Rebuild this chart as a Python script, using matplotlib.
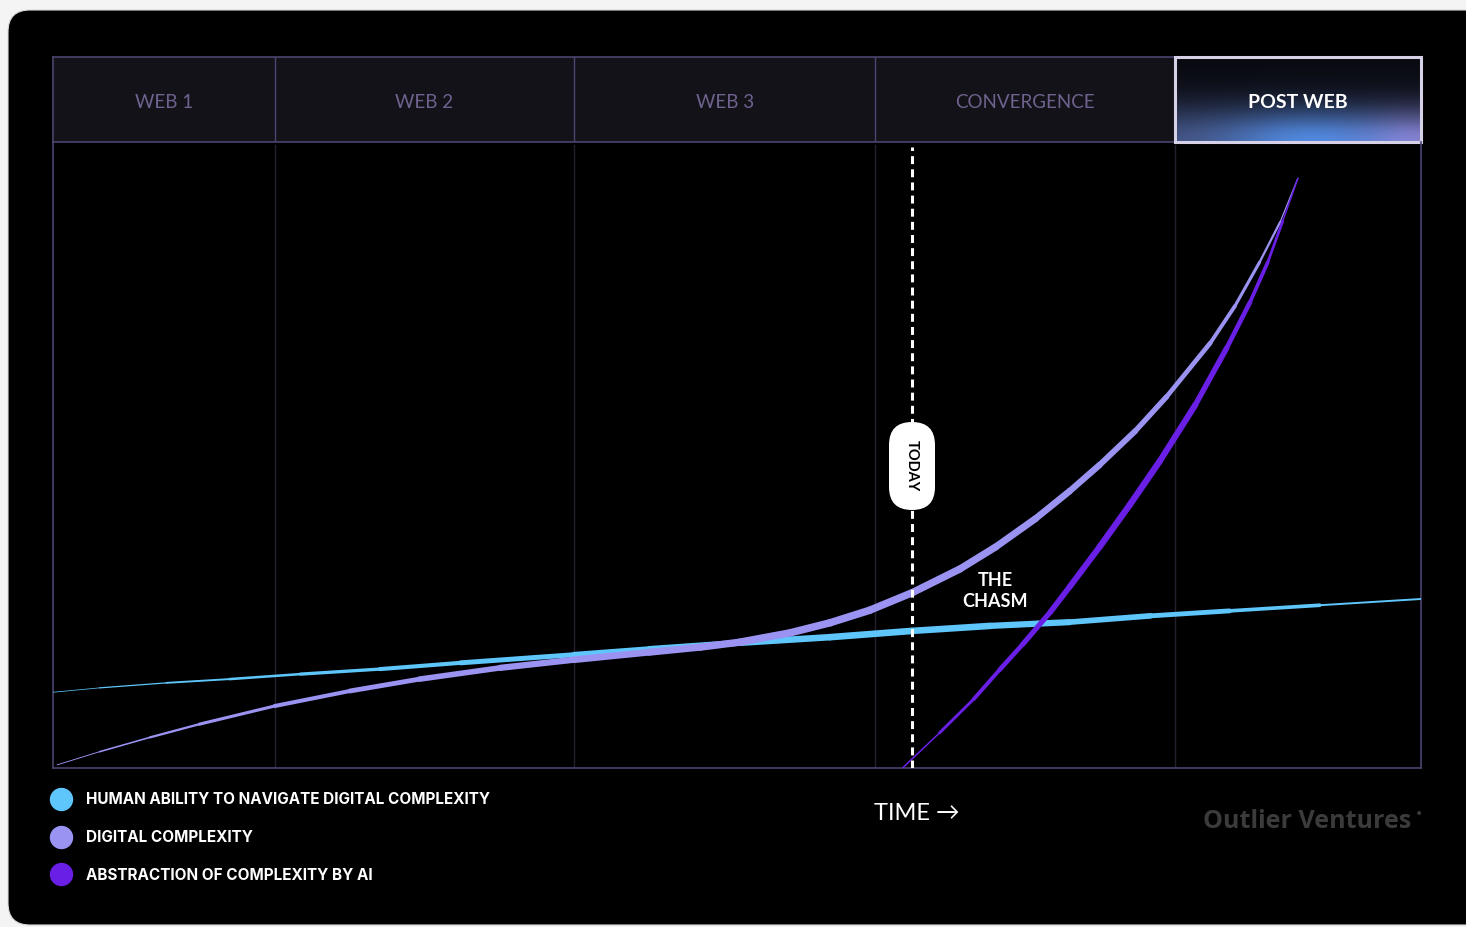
import numpy as np
import matplotlib.pyplot as plt
from matplotlib.collections import LineCollection
from matplotlib.patches import FancyBboxPatch, Rectangle

### Data (time 0-100 across the frame, level 0-100 up the frame) ###
eras = ["WEB 1", "WEB 2", "WEB 3", "CONVERGENCE", "POST WEB"]
era_edges = [0, 16.2, 38.1, 60.1, 82.0, 100]
today = 62.8

human_x = [0, 3.4, 8.3, 12.9, 18.1, 23.9, 29.8, 38.1, 43.6, 50.2, 56.8, 62.8,
           68.5, 74.3, 80.2, 86.0, 92.6, 100]
human_y = [12.1, 12.8, 13.6, 14.2, 15.0, 15.8, 16.8, 18.1, 19.0, 20.0, 20.9, 21.9,
           22.7, 23.3, 24.3, 25.1, 26.0, 27.0]

digital_x = [0.3, 3.4, 7.1, 10.7, 16.2, 21.7, 26.8, 32.7, 38.1, 43.6, 47.3, 50.2,
             53.9, 56.8, 59.7, 62.8, 66.3, 68.9, 71.8, 74.3, 76.5, 79.1, 81.4,
             84.6, 86.4, 88.2, 89.7, 91.0]
digital_y = [0.5, 2.6, 4.9, 7.0, 9.9, 12.3, 14.2, 16.0, 17.3, 18.5, 19.3, 20.1,
             21.6, 23.2, 25.2, 28.0, 31.8, 35.3, 39.8, 44.2, 48.4, 53.8, 59.3,
             67.9, 73.8, 80.8, 87.2, 94.2]

ai_x = [62.1, 64.8, 67.3, 69.2, 70.9, 72.9, 74.3, 76.5, 78.7, 80.9, 83.5, 85.8,
        87.5, 88.8, 89.9, 91.0]
ai_y = [0, 5.6, 11.0, 15.7, 19.8, 24.9, 28.9, 35.3, 42.0, 49.0, 58.0, 67.1,
        74.4, 80.8, 87.4, 94.2]

labels = ["HUMAN ABILITY TO NAVIGATE DIGITAL COMPLEXITY",
          "DIGITAL COMPLEXITY",
          "ABSTRACTION OF COMPLEXITY BY AI"]
colors = ["#5ec6fb", "#9b93f2", "#6a1fe6"]

W, H = 1466, 927
FRAME = "#4d4370"


def tapered(ax, xs, ys, color, wmax, peak):
    # line that is thin at both ends and thick in the middle
    xs = np.asarray(xs, float)
    ys = np.asarray(ys, float)
    d = np.hypot(np.diff(xs) * 13.68, np.diff(ys) * 6.26)
    s = np.concatenate([[0], np.cumsum(d)]) / d.sum()
    mid = (s[:-1] + s[1:]) / 2
    a = np.log(0.5) / np.log(peak)
    w = wmax * np.sin(np.pi * mid ** a) ** 0.8 + 0.4
    pts = np.column_stack([xs, ys])
    segs = np.stack([pts[:-1], pts[1:]], axis=1)
    lc = LineCollection(segs, linewidths=w, colors=color,
                        capstyle="round", joinstyle="round", zorder=4)
    ax.add_collection(lc)


def main():
    fig = plt.figure(figsize=(W / 100, H / 100), dpi=100, facecolor="#f4f4f4")

    ### background panel, legend, footer ###
    bg = fig.add_axes([0, 0, 1, 1], zorder=0)
    bg.set_xlim(0, W)
    bg.set_ylim(H, 0)
    bg.axis("off")
    bg.add_patch(FancyBboxPatch((8, 10), W + 40, H - 12,
                                boxstyle="round,pad=0,rounding_size=22",
                                fc="black", ec="#dadada", lw=0.8))

    for i, (lab, col) in enumerate(zip(labels, colors)):
        yy = 799 + 37.5 * i
        bg.scatter([61], [yy], s=250, color=col, zorder=3)
        bg.text(86, yy + 1, lab, color="white", fontsize=11, fontweight="bold",
                family="Inter", va="center", ha="left")

    bg.text(874, 813, "TIME →", color="white", fontsize=17, fontweight="normal",
            family=["Lato", "DejaVu Sans"], va="center", ha="left")
    bg.text(1411, 822, "Outlier Ventures", color="#3b3b3b", fontsize=18,
            fontweight="bold", family="Open Sans", va="center", ha="right")
    bg.text(1419, 814, "•", color="#3b3b3b", fontsize=10, va="center", ha="center")

    ### header with the eras ###
    hx = fig.add_axes([53 / W, 1 - 142 / H, 1368 / W, 85 / H], zorder=1)
    hx.set_xlim(0, 100)
    hx.set_ylim(0, 1)
    hx.set_facecolor("#131219")
    hx.set_xticks([])
    hx.set_yticks([])
    for sp in hx.spines.values():
        sp.set_color(FRAME)
        sp.set_linewidth(1.2)
    for e in era_edges[1:-2]:
        hx.axvline(e, color=FRAME, lw=1)

    # post web cell glow
    gx, gy = np.meshgrid(np.linspace(0, 1, 240), np.linspace(0, 1, 80))
    base = np.array([0.035, 0.04, 0.065])
    wash = np.exp(-(gy / 0.45) ** 2)
    blue = np.exp(-((gx - 0.55) / 0.35) ** 2 - (gy / 0.35) ** 2)
    purp = np.exp(-((gx - 1.0) / 0.22) ** 2 - (gy / 0.35) ** 2)
    img = (base[None, None, :]
           + wash[..., None] * np.array([0.22, 0.27, 0.42])
           + blue[..., None] * np.array([0.06, 0.22, 0.38])
           + purp[..., None] * np.array([0.25, 0.15, 0.25]))
    img = np.clip(img, 0, 1)
    hx.imshow(img, extent=[era_edges[4], era_edges[5], 0, 1], origin="lower",
              aspect="auto", zorder=1)
    hx.add_patch(Rectangle((era_edges[4], 0.0), era_edges[5] - era_edges[4], 1.0,
                           fill=False, ec="#d6d1e6", lw=2.2, zorder=3, clip_on=False))

    for i, name in enumerate(eras):
        c = (era_edges[i] + era_edges[i + 1]) / 2
        last = i == len(eras) - 1
        hx.text(c, 0.47, name, ha="center", va="center", zorder=4,
                color="white" if last else "#6f628f",
                fontsize=14 if last else 13.5,
                fontweight="bold" if last else "normal",
                family="Lato")

    ### chart ###
    ax = fig.add_axes([53 / W, 1 - 768 / H, 1368 / W, 626 / H], zorder=1)
    ax.set_facecolor("none")
    ax.set_xlim(0, 100)
    ax.set_ylim(0, 100)
    ax.set_xticks([])
    ax.set_yticks([])
    for sp in ax.spines.values():
        sp.set_color(FRAME)
        sp.set_linewidth(1.2)
    ax.spines["top"].set_visible(False)

    for e in era_edges[1:-1]:
        ax.axvline(e, ymin=0, ymax=0.995, color="#24212d", lw=1, zorder=1)

    ax.plot([today, today], [0, 99.2], color="white", lw=2.2,
            dashes=(2.6, 1.7), zorder=5)

    tapered(ax, human_x, human_y, colors[0], 4.4, 0.6)
    tapered(ax, digital_x, digital_y, colors[1], 5.0, 0.55)
    tapered(ax, ai_x, ai_y, colors[2], 4.2, 0.5)

    ### annotations on top ###
    ov = fig.add_axes([0, 0, 1, 1], zorder=3)
    ov.set_xlim(0, W)
    ov.set_ylim(H, 0)
    ov.axis("off")
    ov.add_patch(FancyBboxPatch((889, 422), 46, 88,
                                boxstyle="round,pad=0,rounding_size=23",
                                fc="white", ec="none"))
    ov.text(912, 466, "TODAY", rotation=-90, ha="center", va="center",
            color="black", fontsize=10.5, fontweight="bold", family="Lato")
    ov.text(995, 591, "THE\nCHASM", ha="center", va="center", color="white",
            fontsize=13, fontweight="bold", family="Lato", linespacing=1.3)

    fig.savefig("out.png", dpi=100, facecolor=fig.get_facecolor())


if __name__ == "__main__":
    main()
